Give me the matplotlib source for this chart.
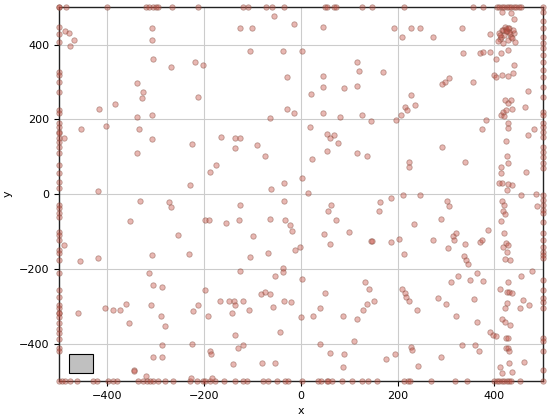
import matplotlib
matplotlib.use("Agg")
import matplotlib.pyplot as plt
from matplotlib.patches import Rectangle

# top edge (y=500)
top_x = [-500,-500,-485,-400,-320,-314,-305,-300,-295,-266,-212,-120,-109,-72,-60,-35,
         49,54,68,72,126,148,214,355,377,405,410,415,420,425,430,435,440,445,450,455,500]
# bottom edge (y=-500)
bot_x = [-499,-493,-487,-476,-462,-429,-421,-398,-388,-379,-336,-326,-318,-311,-305,-295,-280,-264,
         -229,-214,-202,-198,-188,-177,-159,-136,-120,-111,-78,-68,-49,-33,-27,2,
         35,41,54,56,64,85,105,126,138,157,214,221,225,268,318,344,400,405,410,415,420,425,430,435,452,500]
# left edge (x=-500)
left_y = [446,427,408,327,319,301,274,225,217,191,180,166,164,150,139,126,110,78,56,32,16,
          -30,-38,-51,-62,-102,-110,-123,-150,-158,-177,-212,-258,-276,-298,-306,-317,-319,-330,
          -344,-360,-373,-387,-411,-419]
# right edge (x=500)
right_y = [486,464,443,421,405,392,373,352,333,314,287,260,220,212,191,180,166,153,126,113,99,83,70,
           -3,-16,-30,-43,-51,-75,-105,-123,-142,-156,-164,-172,-231,-258,-279,-290,-306,-384,-392,-419,-472]

# interior points
in_x = [-56,-14,-307,-126,-101,-487,-480,-468,-307,-476,-105,-37,2,-305,-268,-219,-202,-29,-338,-326,
        -328,-212,-384,-418,-29,-14,-338,-307,-64,-454,-402,-334,-490,-307,-165,-136,-126,-225,-91,-136,
        -338,-74,-175,-188,2,-35,-229,-62,-419,
        45,192,208,227,247,274,332,390,441,416,435,336,371,377,390,404,414,427,441,115,120,169,45,45,89,
        117,21,307,297,291,355,400,404,416,427,439,470,227,216,220,235,206,196,45,80,126,144,421,427,435,
        437,414,418,424,420,464,383,375,427,427,482,470,19,54,68,60,76,54,115,136,291,23,223,223,340,423,
        425,429,414,414,466,410,416,427,437,425,
        410,415,420,425,430,435,440,412,418,422,428,433,438,408,414,424,430,436,442,411,417,423,429,
        -332,-272,-268,-126,-35,-353,-198,-190,-155,-128,-64,-33,-23,-19,-254,-99,-489,-12,-2,-68,-307,
        -231,-105,-456,-419,-126,-37,-37,-54,2,-313,-305,-287,-198,-167,-148,-138,-136,-120,-107,-82,-74,
        -64,-58,-35,-21,-404,-388,-373,-361,-309,-460,-223,-212,-192,-142,-289,-355,-280,-136,-43,-287,
        -225,-130,-120,-188,-186,-305,-287,-140,-80,-54,-344,-344,-320,-227,-184,
        14,62,56,72,47,60,99,144,148,163,161,186,186,202,212,247,214,233,274,289,301,307,303,315,320,317,
        340,338,342,346,371,375,386,454,485,487,416,420,418,422,414,420,418,424,428,425,422,432,
        0,25,39,49,39,60,89,87,115,87,109,128,136,132,140,152,175,194,208,216,218,223,239,227,229,243,
        284,299,311,320,324,289,332,349,357,359,363,363,369,377,390,396,404,
        412,425,431,437,429,421,425,416,421,433,423,427,423,427,431,412,416,437,431,454,452,460,472,478,462]
in_y = [475,454,443,443,443,435,432,413,413,397,384,384,384,360,341,354,346,314,298,274,
        258,260,242,228,228,217,207,212,204,174,182,174,150,147,153,150,150,134,131,123,
        110,102,78,59,43,29,24,13,8,
        448,443,421,443,443,419,443,429,467,486,483,378,376,381,381,362,376,386,346,352,330,327,317,287,284,
        290,268,311,301,295,301,319,314,319,317,325,276,265,233,225,239,212,198,217,206,212,195,252,244,252,
        228,212,220,225,208,233,198,174,190,177,174,158,180,161,158,150,137,116,110,102,126,94,86,72,86,142,
        102,83,72,56,59,29,29,27,24,11,
        430,440,425,435,445,420,430,415,438,448,412,428,440,410,420,442,433,418,408,425,405,436,445,
        -19,-21,-35,-30,-19,-72,-70,-70,-78,-70,-67,-70,-83,-99,-110,-113,-137,-150,-142,-158,-164,
        -161,-169,-180,-172,-207,-199,-209,-220,-228,-212,-244,-250,-258,-287,-287,-285,-298,-287,-309,-268,-263,
        -268,-303,-287,-290,-306,-311,-309,-293,-298,-317,-314,-298,-325,-317,-325,-346,-352,-378,-368,-405,
        -400,-411,-405,-421,-429,-437,-435,-454,-451,-451,-470,-473,-486,-491,-491,
        3,-30,-46,-70,-107,-134,-102,-126,-126,-21,-46,-11,-129,-121,-3,-3,-161,-81,-123,-67,-19,-32,-145,-113,-105,-123,
        -134,-166,-177,-188,-129,-123,-97,-3,0,-32,-19,-30,-46,-54,-72,-105,-142,-132,-137,-156,-174,-177,
        -330,-325,-306,-266,-400,-424,-429,-325,-333,-464,-394,-311,-295,-236,-255,-287,-440,-429,-255,-266,-276,-287,-309,-408,-416,-459,
        -279,-295,-236,-327,-220,-435,-403,-231,-282,-403,-212,-341,-421,-233,-370,-376,-381,
        -255,-263,-263,-266,-236,-306,-292,-335,-343,-351,-386,-386,-411,-411,-451,-464,-478,-475,-421,-220,-306,-284,-298,-207,-448]

xs = top_x + bot_x + [-500]*len(left_y) + [500]*len(right_y) + in_x
ys = [500]*len(top_x) + [-500]*len(bot_x) + left_y + right_y + in_y

fig = plt.figure(figsize=(5.5, 4.2), dpi=100)
ax = fig.add_axes([0.107, 0.093, 0.88, 0.89])
ax.scatter(xs, ys, s=15, facecolor=(0.78, 0.3, 0.25, 0.4), edgecolor=(0.5, 0.3, 0.25, 0.5),
           linewidth=0.6, clip_on=False, zorder=3)
ax.set_xlim(-500, 500)
ax.set_ylim(-500, 500)
ax.set_xticks([-400, -200, 0, 200, 400])
ax.set_yticks([-400, -200, 0, 200, 400])
ax.grid(True, color='#cccccc', linewidth=0.8)
ax.set_axisbelow(True)
for s in ax.spines.values():
    s.set_color('#222222')
    s.set_linewidth(1.0)
ax.tick_params(labelsize=8)
ax.set_xlabel('x', fontsize=8)
ax.set_ylabel('y', fontsize=8)
ax.add_patch(Rectangle((0.021, 0.021), 0.049, 0.051, transform=ax.transAxes,
                       facecolor='#c0c0c0', edgecolor='black', linewidth=0.8, zorder=4))
fig.savefig('out.png', dpi=100)
